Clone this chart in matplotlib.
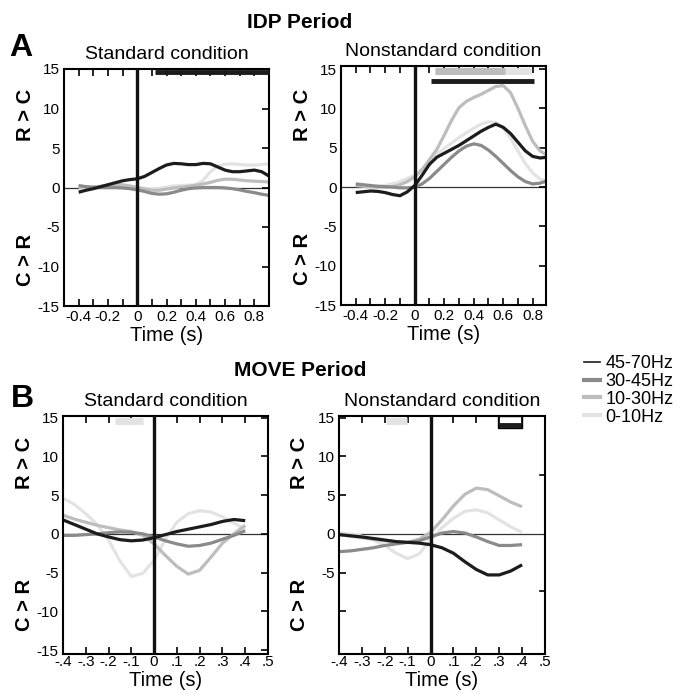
import matplotlib
matplotlib.use("Agg")
import matplotlib.pyplot as plt
from matplotlib.lines import Line2D
from matplotlib.patches import Rectangle

plt.rcParams['font.family'] = ['Liberation Sans', 'DejaVu Sans']
plt.rcParams['axes.unicode_minus'] = False

# ---- data ----
bands = ["45-70Hz", "30-45Hz", "10-30Hz", "0-10Hz"]
band_colors = ["#1c1c1c", "#8a8a8a", "#bdbdbd", "#e3e3e3"]

t_idp = [-0.4, -0.35, -0.3, -0.25, -0.2, -0.15, -0.1, -0.05, 0, 0.05, 0.1, 0.15, 0.2,
         0.25, 0.3, 0.35, 0.4, 0.45, 0.5, 0.55, 0.6, 0.65, 0.7, 0.75, 0.8, 0.85, 0.9]
t_move = [-0.4, -0.35, -0.3, -0.25, -0.2, -0.15, -0.1, -0.05, 0, 0.05, 0.1, 0.15, 0.2,
          0.25, 0.3, 0.35, 0.4]

# IDP standard
idp_std_4570 = [-0.6, -0.35, -0.15, 0.1, 0.35, 0.6, 0.85, 1.0, 1.1, 1.4, 1.9, 2.4, 2.85,
                3.05, 3.0, 2.9, 2.9, 3.05, 3.0, 2.6, 2.2, 2.0, 2.0, 2.1, 2.2, 2.0, 1.45]
idp_std_3045 = [0.25, 0.1, 0.0, 0.0, 0.0, 0.0, -0.05, -0.15, -0.3, -0.5, -0.75, -0.85, -0.8,
                -0.6, -0.35, -0.15, -0.05, 0.0, 0.0, 0.0, -0.05, -0.15, -0.3, -0.5, -0.65, -0.85, -1.0]
idp_std_1030 = [0.15, 0.1, 0.1, 0.15, 0.3, 0.4, 0.35, 0.2, 0.0, -0.2, -0.35, -0.35, -0.2,
                -0.05, 0.05, 0.15, 0.3, 0.45, 0.65, 0.9, 1.05, 1.05, 0.95, 0.85, 0.8, 0.75, 0.7]
idp_std_0010 = [0.05, 0.0, -0.1, -0.1, 0.0, 0.1, 0.15, 0.1, 0.0, -0.1, -0.2, -0.1, 0.05,
                0.2, 0.25, 0.3, 0.35, 0.9, 2.0, 2.7, 2.95, 3.0, 2.9, 2.85, 2.85, 2.9, 3.0]

# IDP nonstandard
idp_non_4570 = [-0.7, -0.6, -0.5, -0.55, -0.7, -0.95, -1.1, -0.6, 0.2, 1.5, 2.9, 3.8, 4.3,
                4.8, 5.3, 5.9, 6.5, 7.1, 7.6, 8.0, 7.6, 6.8, 5.7, 4.6, 3.9, 3.7, 3.8]
idp_non_3045 = [0.4, 0.3, 0.2, 0.1, 0.05, 0.0, -0.1, -0.1, 0.0, 0.4, 1.1, 2.0, 2.9,
                3.8, 4.6, 5.2, 5.5, 5.3, 4.7, 3.9, 3.0, 2.1, 1.3, 0.7, 0.4, 0.5, 0.8]
idp_non_1030 = [0.2, 0.1, 0.05, 0.0, 0.0, 0.05, 0.3, 0.7, 1.3, 2.2, 3.5, 4.8, 6.6,
                8.5, 10.1, 10.9, 11.4, 11.8, 12.3, 12.8, 12.9, 12.0, 10.0, 7.8, 5.8, 4.6, 4.0]
idp_non_0010 = [0.3, 0.2, 0.1, 0.1, 0.2, 0.4, 0.7, 1.1, 1.5, 2.3, 3.3, 4.2, 4.9,
                5.6, 6.3, 6.9, 7.5, 8.0, 8.3, 8.2, 7.5, 6.2, 4.6, 3.0, 1.8, 1.0, 0.7]

# MOVE standard
move_std_4570 = [1.8, 1.2, 0.6, 0.0, -0.4, -0.75, -0.9, -0.8, -0.5, -0.1, 0.3, 0.6, 0.9,
                 1.2, 1.6, 1.85, 1.7]
move_std_3045 = [-0.2, -0.2, -0.1, 0.0, 0.15, 0.25, 0.2, 0.0, -0.4, -0.9, -1.3, -1.6, -1.5,
                 -1.2, -0.7, -0.2, 0.4]
move_std_1030 = [2.4, 1.9, 1.5, 1.1, 0.8, 0.5, 0.3, -0.2, -1.3, -2.8, -4.2, -5.2, -4.7,
                 -3.0, -1.2, 0.0, 1.1]
move_std_0010 = [4.6, 3.8, 2.6, 1.2, -0.8, -3.5, -5.5, -5.1, -3.4, -0.7, 1.5, 2.6, 3.0,
                 2.8, 2.2, 1.4, 0.6]

# MOVE nonstandard
move_non_4570 = [-0.1, -0.25, -0.4, -0.6, -0.8, -1.0, -1.1, -1.2, -1.4, -1.8, -2.5, -3.6, -4.6,
                 -5.3, -5.3, -4.8, -4.0]
move_non_3045 = [-2.3, -2.2, -2.0, -1.8, -1.5, -1.3, -1.1, -0.9, -0.4, 0.1, 0.3, 0.1, -0.4,
                 -1.0, -1.5, -1.5, -1.4]
move_non_1030 = [-0.1, -0.3, -0.5, -0.7, -0.9, -1.1, -1.1, -0.7, 0.2, 1.8, 3.6, 5.1, 5.9,
                 5.7, 4.9, 4.1, 3.5]
move_non_0010 = [0.1, 0.0, -0.3, -0.8, -1.5, -2.5, -3.2, -2.6, -0.8, 0.8, 2.0, 2.9, 3.1,
                 2.7, 1.8, 0.9, 0.2]

# significance bars: (start, end, y, colour index)
sig_idp_std = [(0.12, 0.9, 14.6, 0)]
sig_idp_non = [(0.14, 0.79, 14.8, 3), (0.14, 0.61, 14.8, 2), (0.11, 0.81, 13.5, 0)]
sig_move_std = [(-0.17, -0.05, 14.6, 3)]
sig_move_non = [(-0.195, -0.105, 14.6, 3), (0.295, 0.40, 14.0, 0)]

idp_ticks = [-0.4, -0.2, 0, 0.2, 0.4, 0.6, 0.8]
idp_ticklabels = ["-0.4", "-0.2", "0", "0.2", "0.4", "0.6", "0.8"]
move_ticks = [-0.4, -0.3, -0.2, -0.1, 0, 0.1, 0.2, 0.3, 0.4, 0.5]
move_ticklabels = ["-.4", "-.3", "-.2", "-.1", "0", ".1", ".2", ".3", ".4", ".5"]

W, H = 680, 694
fig = plt.figure(figsize=(W / 100, H / 100), dpi=100)


def rect(x0, y0, x1, y1):
    return [x0 / W, 1 - y1 / H, (x1 - x0) / W, (y1 - y0) / H]


def panel(pos, t, series, sigs, xlim, ylim, title, move=False):
    ax = fig.add_axes(pos)
    ax.axhline(0, color="#333333", lw=0.9, zorder=1)
    # draw light to dark so black ends on top
    for vals, c in list(zip(series, band_colors))[::-1]:
        ax.plot(t, vals, color=c, lw=2.3, solid_capstyle="butt", zorder=2)
    ax.axvline(0, color="#111111", lw=2.4, zorder=3)
    for s, e, y, ci in sigs:
        ax.plot([s, e], [y, y], color=band_colors[ci], lw=3.5 if ci == 0 else 5,
                solid_capstyle="butt", zorder=4, clip_on=False)
    ax.set_xlim(*xlim)
    ax.set_ylim(*ylim)
    if move:
        ax.set_xticks(move_ticks)
        ax.set_xticklabels(move_ticklabels)
        ax.tick_params(axis="x", pad=1)
    else:
        ax.set_xticks(idp_ticks)
        ax.set_xticklabels(idp_ticklabels)
        ax.set_xticks([-0.3, -0.1, 0.1, 0.3, 0.5, 0.7], minor=True)
        ax.tick_params(axis="x", which="minor", direction="in", top=True, length=5, width=1.2)
        ax.tick_params(axis="x", pad=3)
    ax.tick_params(axis="x", direction="in", top=True, length=5, width=1.2, labelsize=11)
    ax.set_yticks([-15, -10, -5, 0, 5, 10, 15])
    ax.tick_params(axis="y", direction="in", left=False, right=True, length=5, width=1.2,
                   labelsize=11, pad=3)
    for sp in ax.spines.values():
        sp.set_linewidth(1.5)
    ax.set_title(title, fontsize=14, pad=7)
    ax.set_xlabel("Time (s)", fontsize=14.5, labelpad=1)
    tr = ax.get_yaxis_transform()
    ax.text(-0.19, 9.2, "R > C", transform=tr, rotation=90, fontsize=14.5, fontweight="bold",
            ha="center", va="center")
    ax.text(-0.19, -9.2, "C > R", transform=tr, rotation=90, fontsize=14.5, fontweight="bold",
            ha="center", va="center")
    return ax


panel(rect(64, 69, 269, 306), t_idp,
      [idp_std_4570, idp_std_3045, idp_std_1030, idp_std_0010], sig_idp_std,
      (-0.5, 0.9), (-15, 15), "Standard condition")
panel(rect(341, 66, 546, 305), t_idp,
      [idp_non_4570, idp_non_3045, idp_non_1030, idp_non_0010], sig_idp_non,
      (-0.5, 0.89), (-15, 15.4), "Nonstandard condition")
panel(rect(63, 416, 268, 654), t_move,
      [move_std_4570, move_std_3045, move_std_1030, move_std_0010], sig_move_std,
      (-0.4, 0.5), (-15.5, 15.2), "Standard condition", move=True)
axd = panel(rect(339, 416, 545, 654), t_move,
            [move_non_4570, move_non_3045, move_non_1030, move_non_0010], sig_move_non,
            (-0.4, 0.5), (-15.5, 15.2), "Nonstandard condition", move=True)
axd.set_yticks([-10, -5, 0, 5, 10, 15])
axd.set_yticklabels(["", "-5", "0", "5", "10", "15"])
axd.tick_params(axis="y", left=True, right=False)
for yy in (7.6, -7.4):
    axd.plot([0.975, 1.0], [yy, yy], transform=axd.get_yaxis_transform(), color="k", lw=1.2)
axd.add_patch(Rectangle((0.295, 13.6), 0.105, 1.6, facecolor="none", edgecolor="k", lw=1.0,
                        zorder=4, clip_on=False))

fig.text(300 / W, 1 - 22 / H, "IDP Period", fontsize=15, fontweight="bold", ha="center", va="center")
fig.text(300 / W, 1 - 370 / H, "MOVE Period", fontsize=15, fontweight="bold", ha="center", va="center")
fig.text(21 / W, 1 - 48 / H, "A", fontsize=23, fontweight="bold", ha="center", va="center")
fig.text(22 / W, 1 - 399 / H, "B", fontsize=23, fontweight="bold", ha="center", va="center")

handles = [Line2D([], [], color=band_colors[0], lw=1.2)] + \
          [Line2D([], [], color=c, lw=3) for c in band_colors[1:]]
fig.legend(handles, bands, loc="upper left", bbox_to_anchor=(584 / W, 1 - 355 / H),
           frameon=False, fontsize=13, handlelength=0.9, handletextpad=0.3,
           labelspacing=0.05, borderpad=0, borderaxespad=0)

fig.savefig("out.png", dpi=100)
